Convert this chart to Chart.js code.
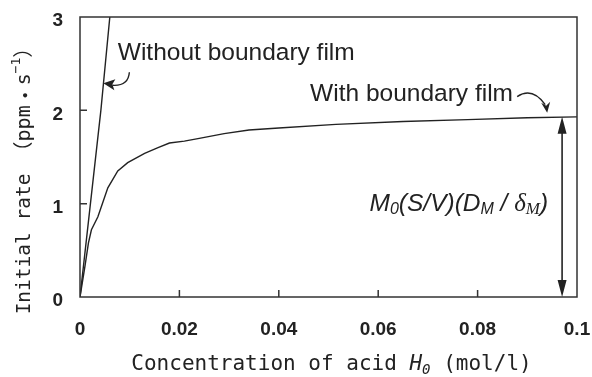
<!DOCTYPE html>
<html>
<head>
<meta charset="utf-8">
<script src="https://cdn.jsdelivr.net/npm/chart.js@4"></script>
<style>
  html, body { margin: 0; padding: 0; background: #fff; }
  #wrap { width: 592px; height: 377px; }
</style>
</head>
<body>
<div id="wrap"><canvas id="rateChart" width="592" height="377"></canvas></div>
<script>
// --- data ---
const withFilmX = [0, 0.001, 0.0017, 0.0023, 0.0036, 0.0056, 0.0076, 0.0096, 0.013, 0.0157, 0.018, 0.021, 0.024, 0.029, 0.034, 0.040, 0.0515, 0.065, 0.078, 0.09, 0.1];
const withFilmY = [0, 0.33, 0.58, 0.72, 0.86, 1.17, 1.35, 1.44, 1.54, 1.60, 1.65, 1.67, 1.70, 1.75, 1.79, 1.81, 1.85, 1.88, 1.90, 1.92, 1.93];
const withoutFilmX = [0, 0.0021, 0.0042, 0.006];
const withoutFilmY = [0, 1, 2, 3];

const xTicks = [0, 0.02, 0.04, 0.06, 0.08, 0.1];
const yTicks = [0, 1, 2, 3];
const plateauRate = 1.93;    // limiting rate
const limitArrowX = 0.097;   // where the double arrow sits

const ink = "#222";
const monoFont = "'DejaVu Sans Mono', 'Noto Sans CJK JP', monospace";
const cjkFont = "'Noto Sans CJK JP', sans-serif";

const toPoints = (xs, ys) => xs.map((x, i) => ({ x, y: ys[i] }));

// draws a run of text pieces one after another, each with its own font / baseline shift
function drawRuns(ctx, runs, x, y) {
  let cx = x;
  runs.forEach(r => {
    ctx.font = r.font;
    ctx.fillText(r.text, cx, y + (r.dy || 0));
    cx += ctx.measureText(r.text).width;
  });
  return cx - x;
}
function runsWidth(ctx, runs) {
  return runs.reduce((w, r) => { ctx.font = r.font; return w + ctx.measureText(r.text).width; }, 0);
}

const decorations = {
  id: "decorations",
  afterDatasetsDraw(chart) {
    const { ctx, chartArea: a, scales: { x, y } } = chart;
    ctx.save();
    ctx.strokeStyle = "#333";
    ctx.fillStyle = ink;

    // frame
    ctx.lineWidth = 1.5;
    ctx.strokeRect(a.left, a.top, a.right - a.left, a.bottom - a.top);

    // inward tick marks
    ctx.beginPath();
    xTicks.slice(1, -1).forEach(v => {
      const px = x.getPixelForValue(v);
      ctx.moveTo(px, a.bottom); ctx.lineTo(px, a.bottom - 7);
    });
    yTicks.slice(1, -1).forEach(v => {
      const py = y.getPixelForValue(v);
      ctx.moveTo(a.left, py); ctx.lineTo(a.left + 7, py);
    });
    ctx.stroke();

    // double arrow for the limiting rate
    ctx.strokeStyle = ink;
    const ax = x.getPixelForValue(limitArrowX);
    const aTop = y.getPixelForValue(plateauRate);
    const aBot = y.getPixelForValue(0);
    ctx.lineWidth = 1.6;
    ctx.beginPath();
    ctx.moveTo(ax, aTop + 10); ctx.lineTo(ax, aBot - 10);
    ctx.stroke();
    ctx.beginPath();
    ctx.moveTo(ax, aTop); ctx.lineTo(ax - 4.5, aTop + 17); ctx.lineTo(ax + 4.5, aTop + 17); ctx.closePath();
    ctx.moveTo(ax, aBot); ctx.lineTo(ax - 4.5, aBot - 17); ctx.lineTo(ax + 4.5, aBot - 17); ctx.closePath();
    ctx.fill();

    // curved pointer to the "without" line
    ctx.lineWidth = 1.4;
    let px = x.getPixelForValue(0.0047), py = y.getPixelForValue(2.29);
    ctx.beginPath();
    ctx.moveTo(px + 26, py - 11);
    ctx.quadraticCurveTo(px + 25, py + 3, px + 9, py + 2);
    ctx.stroke();
    ctx.beginPath();
    ctx.moveTo(px, py); ctx.lineTo(px + 12, py - 4); ctx.lineTo(px + 9, py + 1); ctx.lineTo(px + 11, py + 7); ctx.closePath();
    ctx.fill();

    // curved pointer to the "with" curve
    px = x.getPixelForValue(0.094); py = y.getPixelForValue(1.975);
    ctx.beginPath();
    ctx.moveTo(px - 30, py - 16);
    ctx.quadraticCurveTo(px - 15, py - 26, px - 2, py - 8);
    ctx.stroke();
    ctx.beginPath();
    ctx.moveTo(px, py); ctx.lineTo(px - 6, py - 10); ctx.lineTo(px - 1, py - 7); ctx.lineTo(px + 3, py - 11); ctx.closePath();
    ctx.fill();

    // annotation labels
    ctx.textBaseline = "middle";
    ctx.textAlign = "left";
    ctx.font = "24.5px 'Liberation Sans', Arial, sans-serif";
    ctx.fillText("Without boundary film", x.getPixelForValue(0.0076), y.getPixelForValue(2.61));
    ctx.fillText("With boundary film", x.getPixelForValue(0.0463), y.getPixelForValue(2.17));

    // M0(S/V)(DM / δM)
    const si = "italic 24.5px 'Liberation Sans', Arial, sans-serif";
    const ss = "italic 16px 'Liberation Sans', Arial, sans-serif";
    const ri = "italic 25px 'Liberation Serif', 'Times New Roman', serif";
    const rs = "italic 17px 'Liberation Serif', 'Times New Roman', serif";
    const formula = [
      { text: "M", font: si }, { text: "0", font: ss, dy: 5 },
      { text: "(S/V)(D", font: si }, { text: "M", font: ss, dy: 5 },
      { text: " / ", font: si }, { text: "δ", font: ri }, { text: "M", font: rs, dy: 5 },
      { text: ")", font: si }
    ];
    const fRight = x.getPixelForValue(0.0942);
    drawRuns(ctx, formula, fRight - runsWidth(ctx, formula), y.getPixelForValue(0.99));

    // x axis title
    const xt = [
      { text: "Concentration of acid ", font: "21px " + monoFont },
      { text: "H", font: "italic 21px " + monoFont },
      { text: "0", font: "italic 14px " + monoFont, dy: 5 },
      { text: " (mol/l)", font: "21px " + monoFont }
    ];
    drawRuns(ctx, xt, (a.left + a.right) / 2 + 3 - runsWidth(ctx, xt) / 2, a.bottom + 68);

    // y axis title, rotated
    const yt = [
      { text: "Initial rate", font: "19.5px " + monoFont },
      { text: " （", font: "20px " + monoFont },
      { text: "ppm", font: "20px " + monoFont },
      { text: "・", font: "20px " + cjkFont },
      { text: "s", font: "20px " + monoFont },
      { text: "−1", font: "13px " + monoFont, dy: -8 },
      { text: "）", font: "20px " + monoFont }
    ];
    ctx.translate(25, (a.top + a.bottom) / 2 + 19);
    ctx.rotate(-Math.PI / 2);
    drawRuns(ctx, yt, -runsWidth(ctx, yt) / 2, 0);
    ctx.restore();
  }
};

new Chart(document.getElementById("rateChart"), {
  type: "line",
  data: {
    datasets: [
      {
        label: "Without boundary film",
        data: toPoints(withoutFilmX, withoutFilmY),
        borderColor: ink, borderWidth: 1.4, pointRadius: 0, tension: 0, fill: false
      },
      {
        label: "With boundary film",
        data: toPoints(withFilmX, withFilmY),
        borderColor: ink, borderWidth: 1.4, pointRadius: 0, tension: 0, fill: false
      }
    ]
  },
  options: {
    responsive: false,
    animation: false,
    devicePixelRatio: 1,
    layout: { padding: { top: 17, right: 15, left: 0, bottom: 0 } },
    plugins: { legend: { display: false }, tooltip: { enabled: false } },
    scales: {
      x: {
        type: "linear", min: 0, max: 0.1,
        afterFit: s => { s.height = 80; s.paddingLeft = 0; s.paddingRight = 0; },
        afterBuildTicks: s => { s.ticks = xTicks.map(v => ({ value: v })); },
        grid: { display: false, drawTicks: false, tickLength: 0 },
        border: { display: false },
        ticks: {
          padding: 21, color: ink, maxRotation: 0,
          font: { family: "'Liberation Sans', Arial, sans-serif", size: 19, weight: "bold" },
          callback: v => String(v)
        }
      },
      y: {
        type: "linear", min: 0, max: 3,
        afterFit: s => { s.width = 80; s.paddingTop = 0; s.paddingBottom = 0; },
        afterBuildTicks: s => { s.ticks = yTicks.map(v => ({ value: v })); },
        grid: { display: false, drawTicks: false, tickLength: 0 },
        border: { display: false },
        ticks: {
          padding: 17, color: ink, labelOffset: 4,
          font: { family: "'Liberation Sans', Arial, sans-serif", size: 19, weight: "bold" }
        }
      }
    }
  },
  plugins: [decorations]
});
</script>
</body>
</html>
